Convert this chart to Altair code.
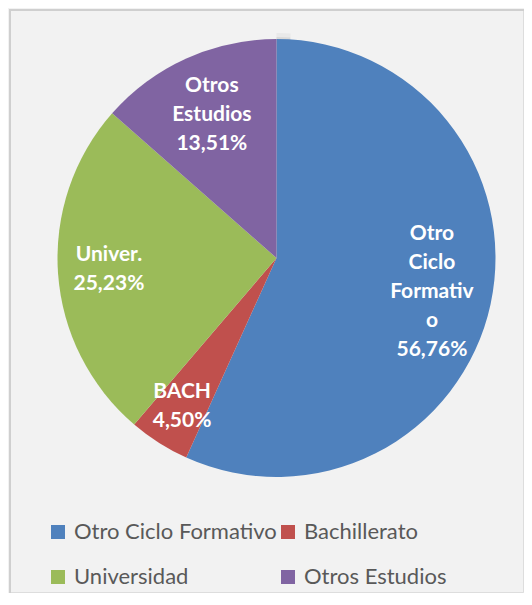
import altair as alt
import pandas as pd

categories = ["Otro Ciclo Formativo", "Bachillerato", "Universidad", "Otros Estudios"]
values = [56.76, 4.50, 25.23, 13.51]
short_labels = [["Otro", "Ciclo", "Formativ", "o"], ["BACH"], ["Univer."], ["Otros", "Estudios"]]
colors = ["#4F81BD", "#C0504D", "#9BBB59", "#8064A2"]

# styling constants (pixels)
W, H = 516, 585
LINE_H = 29
CX, CY, R = 267.5, 249, 219
LABEL_R = [159, 176, 168, 157]

label_lines = []
for v, s in zip(values, short_labels):
    pct = f"{v:.2f}".replace(".", ",") + "%"
    label_lines.append(s + [pct])

df = pd.DataFrame({"cat": categories, "value": values, "idx": list(range(len(categories)))})
for i, lines in enumerate(label_lines):
    for j, ln in enumerate(lines):
        df[f"L{i}_{j}"] = ["" if k != i else ln for k in range(len(categories))]

base = alt.Chart(df).encode(
    theta=alt.Theta("value:Q", stack=True),
    order=alt.Order("idx:Q"),
)

shadow_df = pd.DataFrame({"v": [1]})
shadow1 = alt.Chart(shadow_df).mark_arc(color="#b5b5b5", opacity=0.15).encode(
    theta=alt.Theta("v:Q"), x=alt.value(CX), y=alt.value(CY + 1), radius=alt.value(R + 7)
)
shadow2 = alt.Chart(shadow_df).mark_arc(color="#a0a0a0", opacity=0.22).encode(
    theta=alt.Theta("v:Q"), x=alt.value(CX), y=alt.value(CY + 1), radius=alt.value(R + 3)
)

frame_left = alt.Chart(shadow_df).mark_rule(color="#cfcfcf", strokeWidth=2).encode(
    x=alt.value(1), y=alt.value(0), y2=alt.value(H)
)
frame_top = alt.Chart(shadow_df).mark_rule(color="#cfcfcf", strokeWidth=2).encode(
    x=alt.value(0), x2=alt.value(W), y=alt.value(1)
)

pie = base.mark_arc().encode(
    color=alt.Color(
        "cat:N",
        scale=alt.Scale(domain=categories, range=colors),
        sort=categories,
        legend=alt.Legend(
            title=None,
            orient="none",
            legendX=38,
            legendY=512,
            columns=2,
            direction="horizontal",
            symbolType="square",
            symbolSize=196,
            symbolStrokeWidth=0,
            labelFontSize=22,
            labelFont="Lato",
            labelColor="#595959",
            labelLimit=400,
            rowPadding=23,
            columnPadding=0,
            labelOffset=5,
            padding=0,
        ),
    ),
    x=alt.value(CX),
    y=alt.value(CY),
    radius=alt.value(R),
)

label_layers = []
for i, lines in enumerate(label_lines):
    n = len(lines)
    for j in range(n):
        label_layers.append(
            base.mark_text(
                font="Lato",
                fontSize=21,
                fontWeight="bold",
                color="white",
                align="center",
                baseline="middle",
                dy=(j - (n - 1) / 2) * LINE_H,
            ).encode(
                text=alt.Text(f"L{i}_{j}:N"),
                x=alt.value(CX),
                y=alt.value(CY),
                radius=alt.value(LABEL_R[i]),
            )
        )

chart = alt.layer(shadow1, shadow2, pie, *label_layers, frame_left, frame_top).properties(
    width=W,
    height=H,
    padding=0,
    autosize=alt.AutoSizeParams(type="fit", contains="padding"),
).configure_view(
    fill="#f2f2f2", stroke=None
).configure(background="#f2f2f2")

chart.save("out.html", embed_options={"renderer": "svg", "actions": False})
